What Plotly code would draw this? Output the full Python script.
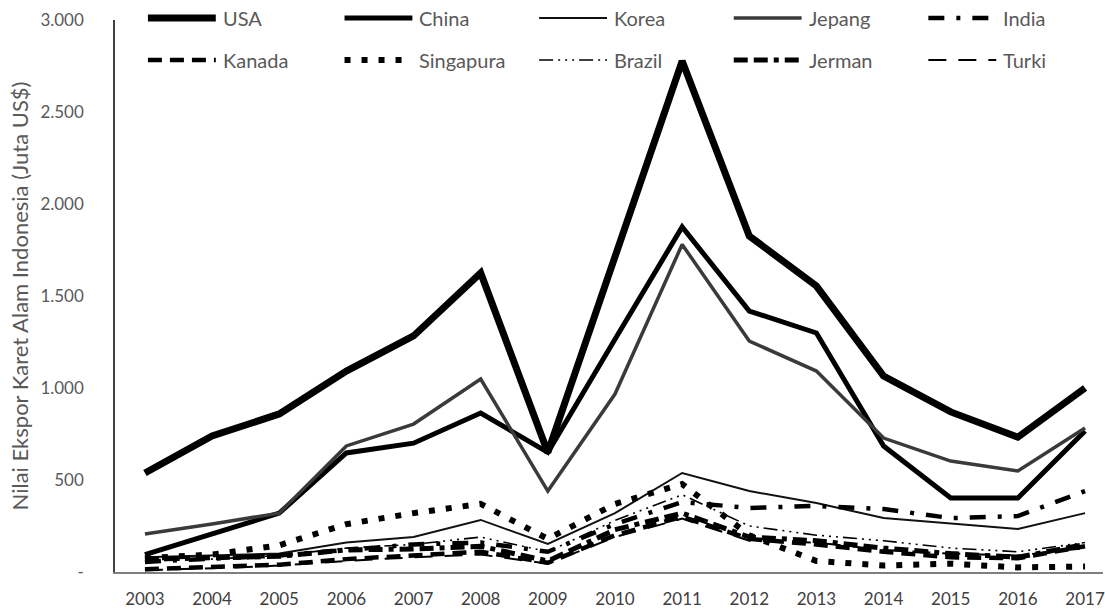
import plotly.graph_objects as go

years = list(range(2003, 2018))

usa = [538, 739, 859, 1092, 1283, 1625, 650, 1715, 2777, 1826, 1554, 1065, 870, 733, 1000]
china = [95, 210, 320, 647, 700, 864, 650, 1265, 1875, 1418, 1299, 685, 402, 402, 766]
korea = [80, 90, 100, 160, 190, 283, 152, 320, 538, 440, 375, 293, 262, 234, 320]
jepang = [207, 261, 320, 685, 804, 1049, 440, 967, 1780, 1255, 1092, 728, 603, 549, 783]
india = [55, 70, 90, 120, 150, 160, 110, 260, 380, 348, 359, 342, 293, 304, 440]
kanada = [15, 25, 40, 70, 90, 110, 50, 200, 300, 180, 150, 110, 80, 75, 140]
singapura = [75, 95, 145, 260, 320, 370, 180, 370, 478, 200, 60, 35, 45, 25, 30]
brazil = [60, 70, 90, 130, 150, 190, 110, 280, 420, 250, 200, 170, 130, 110, 160]
jerman = [70, 75, 85, 120, 125, 140, 60, 230, 320, 190, 170, 130, 100, 80, 150]
turki = [10, 20, 35, 60, 80, 95, 45, 190, 290, 170, 160, 120, 100, 90, 130]

y_ticks = [0, 500, 1000, 1500, 2000, 2500, 3000]
y_tick_text = ["-", "500", "1.000", "1.500", "2.000", "2.500", "3.000"]

series = [
    ("USA", usa, dict(color="#000000", width=7, dash="solid")),
    ("China", china, dict(color="#000000", width=5, dash="solid")),
    ("Korea", korea, dict(color="#111111", width=2, dash="solid")),
    ("Jepang", jepang, dict(color="#3a3a3a", width=3.5, dash="solid")),
    ("India", india, dict(color="#000000", width=4.5, dash="16px,12px,4px,12px")),
    ("Kanada", kanada, dict(color="#000000", width=4.5, dash="14px,8px")),
    ("Singapura", singapura, dict(color="#000000", width=6, dash="6px,11px")),
    ("Brazil", brazil, dict(color="#000000", width=1.6, dash="14px,5px,2px,5px,2px,5px,2px,5px")),
    ("Jerman", jerman, dict(color="#000000", width=5, dash="14px,6px,14px,6px,5px,6px")),
    ("Turki", turki, dict(color="#000000", width=2, dash="18px,12px")),
]

W, H = 1105, 612
ML, MR, MT, MB = 115, 0, 20, 40
PW, PH = W - ML - MR, H - MT - MB

fig = go.Figure()
for name, vals, style in series:
    fig.add_trace(go.Scatter(
        x=years, y=vals, name=name, mode="lines",
        line=dict(color=style["color"], width=style["width"], dash=style["dash"]),
        showlegend=False,
    ))


def px_x(px):
    return (px - ML) / PW


def px_y(py):
    return (H - MB - py) / PH


# Hand-laid legend: two rows of five entries with long line samples
col_left = [148, 345, 540, 735, 930]
row_y = [18, 60]
shapes, annotations = [], []
for i, (name, vals, style) in enumerate(series):
    r, c = divmod(i, 5)
    x0 = col_left[c]
    x1 = x0 + 68
    y = row_y[r]
    shapes.append(dict(
        type="line", xref="paper", yref="paper",
        x0=px_x(x0), x1=px_x(x1), y0=px_y(y), y1=px_y(y),
        line=dict(color=style["color"], width=style["width"], dash=style["dash"]),
    ))
    annotations.append(dict(
        xref="paper", yref="paper", x=px_x(x1 + 5), y=px_y(y),
        text=name, showarrow=False, xanchor="left", yanchor="middle",
        font=dict(family="Lato", size=20, color="#595959"),
    ))

x_lo = 2003 - 30 / 67.286
x_hi = 2017 + 18 / 67.286

fig.update_layout(
    width=W, height=H,
    margin=dict(l=ML, r=MR, t=MT, b=MB),
    paper_bgcolor="white", plot_bgcolor="white",
    shapes=shapes, annotations=annotations,
    xaxis=dict(
        range=[x_lo, x_hi], tickvals=years, ticktext=[str(y) for y in years],
        showgrid=False, zeroline=False, showline=True, linecolor="#7f7f7f", linewidth=1.5,
        ticks="", tickfont=dict(family="Lato", size=17, color="#404040"),
        ticklabelstandoff=11, ticklabeloverflow="allow",
    ),
    yaxis=dict(
        range=[0, 3000], tickvals=y_ticks, ticktext=y_tick_text,
        showgrid=False, zeroline=False, showline=True, linecolor="#404040", linewidth=1.5,
        ticks="", tickfont=dict(family="Lato", size=17, color="#595959"),
        ticklabelstandoff=26,
        title=dict(text="Nilai Ekspor Karet Alam Indonesia (Juta US$)",
                   font=dict(family="Lato", size=22, color="#595959"), standoff=6),
    ),
)

fig.write_html("out.html")
